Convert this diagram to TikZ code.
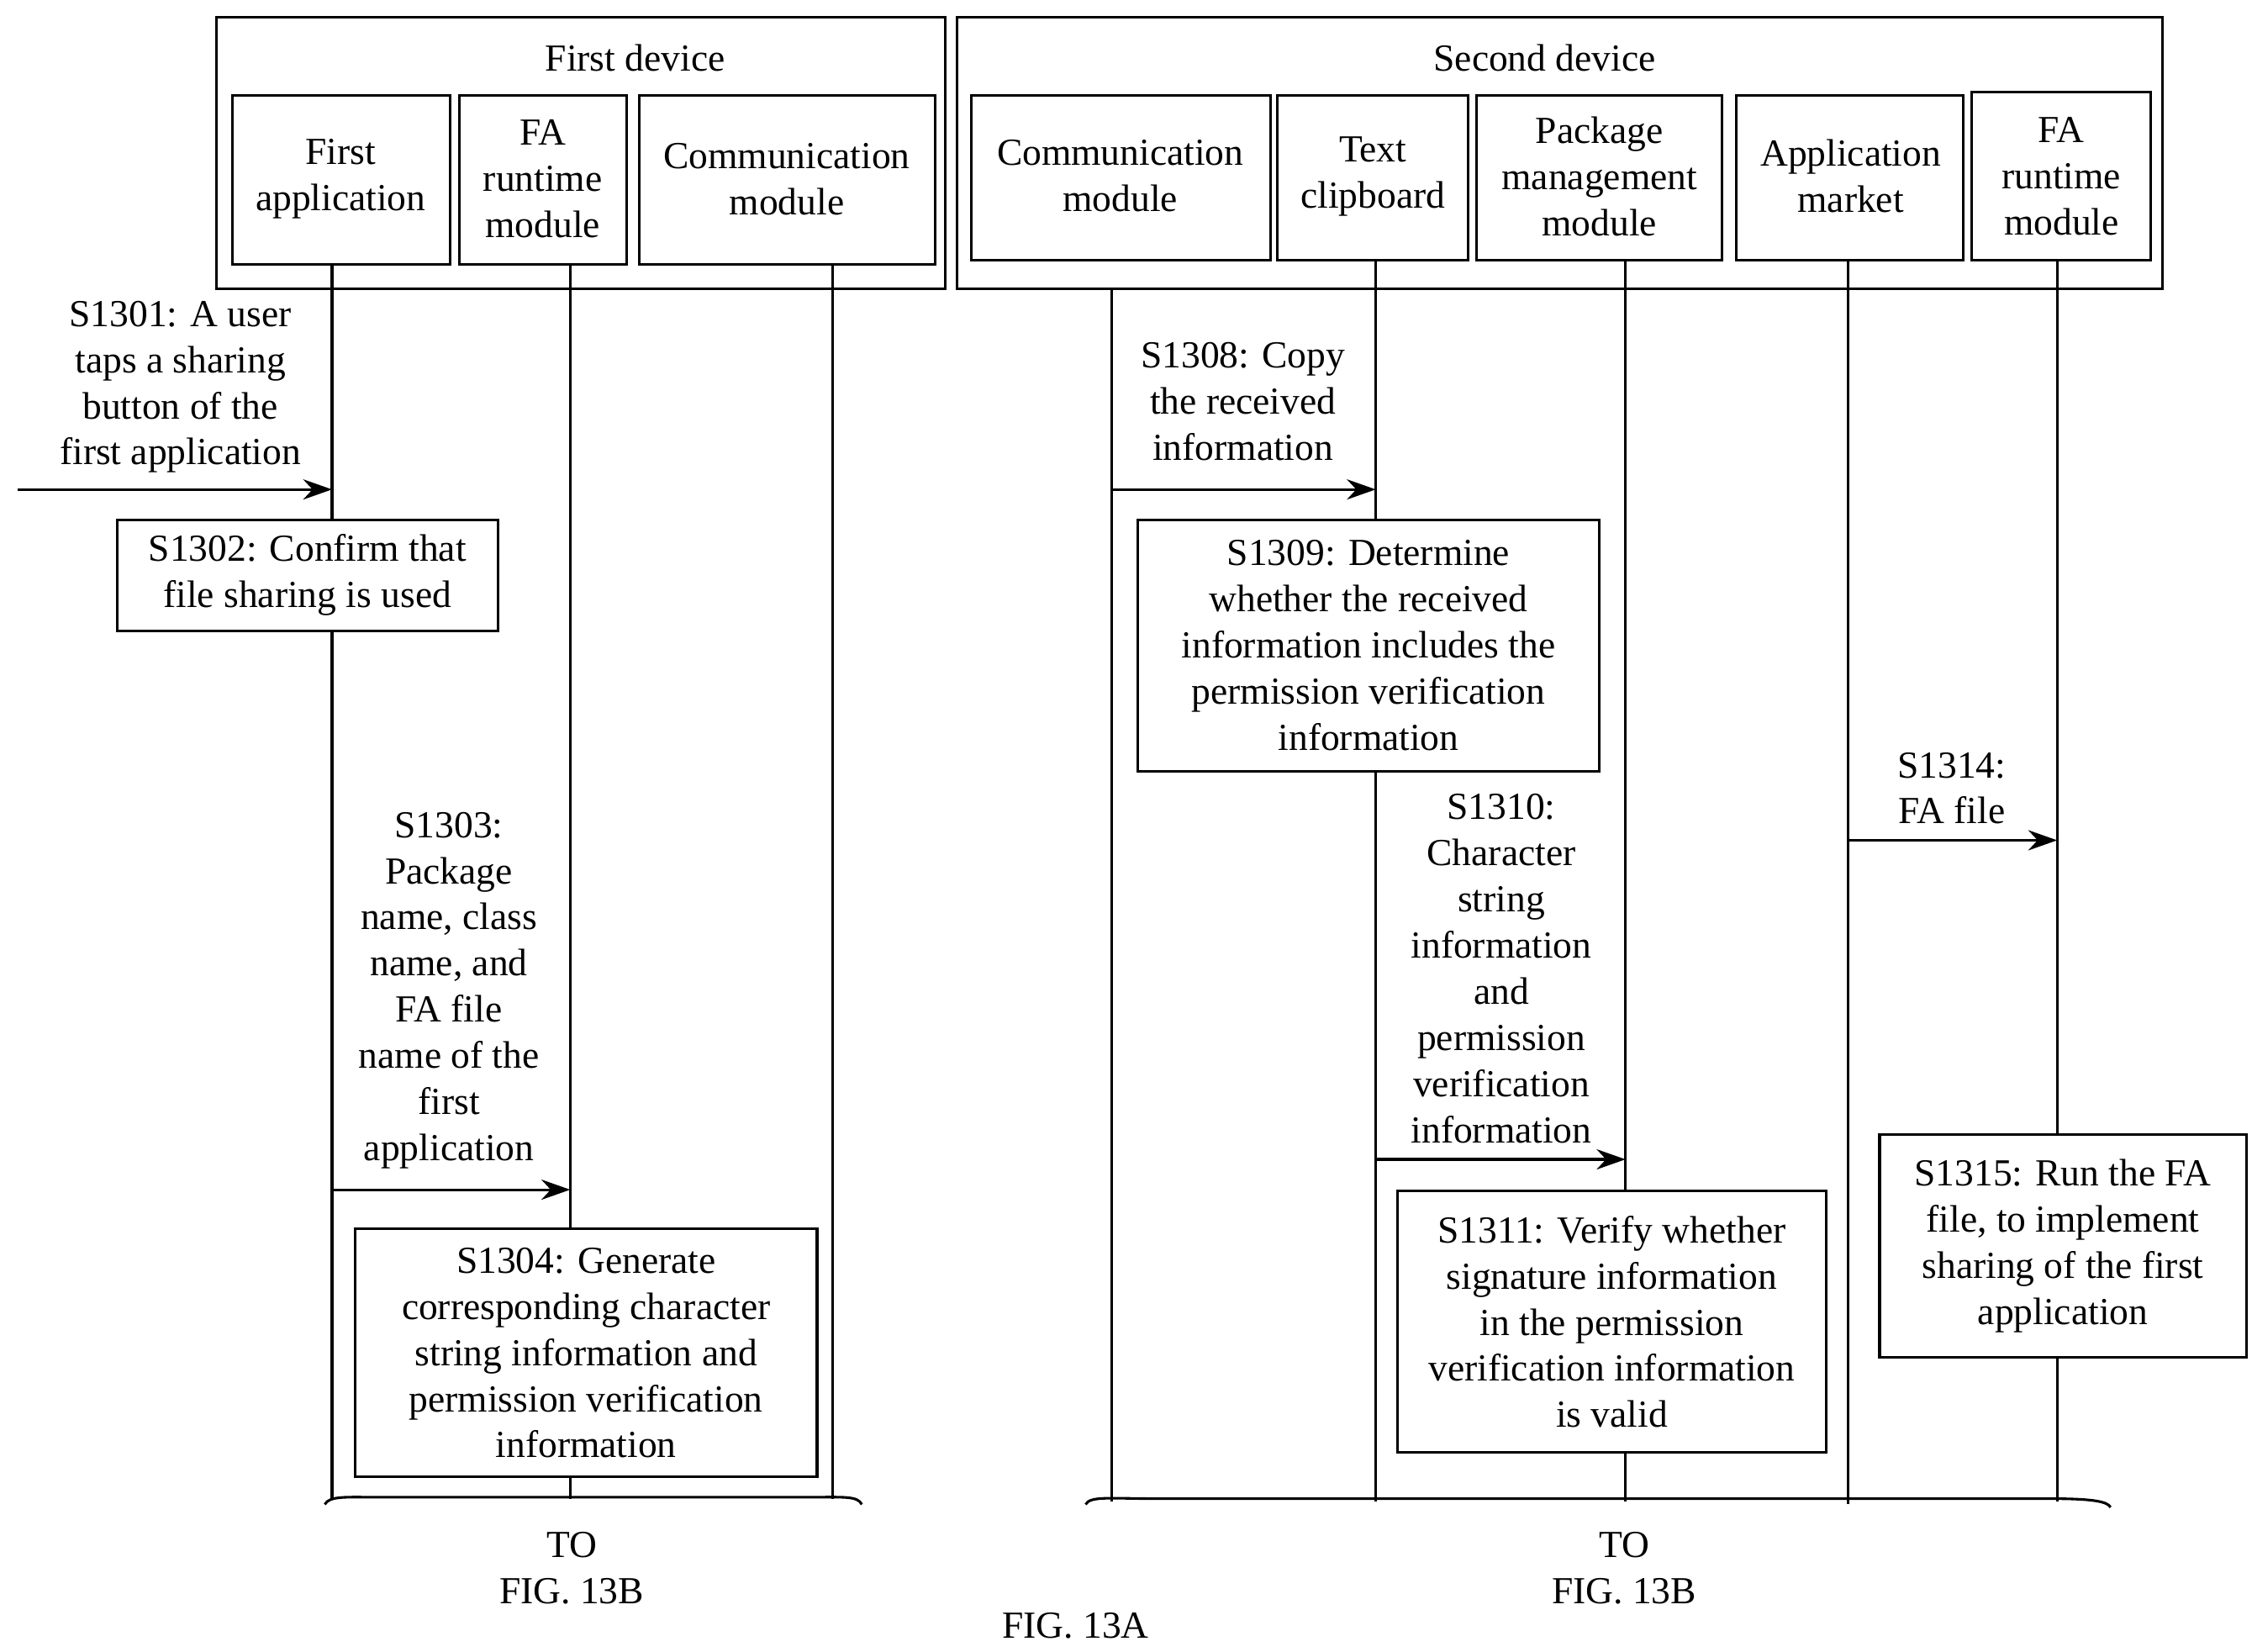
\documentclass[tikz,border=0pt]{standalone}
\usepackage{fontspec}
\setmainfont{Liberation Serif}
\usetikzlibrary{arrows.meta}
\begin{document}
\begin{tikzpicture}[x=1pt,y=-1pt,line width=1.8pt,
  every node/.style={font=\fontsize{26.5}{32}\selectfont,align=center,inner sep=0pt},
  box/.style={draw},
  arr/.style={-{Stealth[length=20pt,width=14pt]}},
  lbl/.style={}]
\useasboundingbox (0,0) rectangle (1560,1144);
% first device
\draw (150,12) rectangle (655,200);
\node (fd) at (440,40) {First device};
\draw (161,66) rectangle (312,183); \node (fa) at (236,124) {First\\application};
\draw (318,66) rectangle (434,183); \node (fr) at (376,124) {FA\\runtime\\module};
\draw (443,66) rectangle (648,183); \node (cm) at (545,124) {Communication\\module};
% second device
\draw (663,12) rectangle (1498,200);
\node (sd) at (1070,40) {Second device};
\draw (673,66) rectangle (880,180); \node at (776,122) {Communication\\module};
\draw (885,66) rectangle (1017,180); \node at (951,122) {Text\\clipboard};
\draw (1023,66) rectangle (1193,180); \node at (1108,122) {Package\\management\\module};
\draw (1203,66) rectangle (1360,180); \node at (1282,122) {Application\\market};
\draw (1366,64) rectangle (1490,180); \node at (1428,122) {FA\\runtime\\module};
% lifelines
\draw (230,183) -- (230,1038);
\draw (395,183) -- (395,851); \draw (395,1023) -- (395,1038);
\draw (577,183) -- (577,1038);
\draw (770,200) -- (770,1040);
\draw (953,180) -- (953,1040);
\draw (1126,180) -- (1126,1040);
\draw (1280,180) -- (1280,1042);
\draw (1425,180) -- (1425,786); \draw (1425,940) -- (1425,1040);
% left messages
\coordinate (s0) at (12,339);
\draw[arr] (s0) -- (230,339);
\node at (125,268) {S1301: A user\\taps a sharing\\button of the\\first application};
\node[box,fill=white,minimum width=264pt,minimum height=77pt] (b2) at (213,398.5) {S1302: Confirm that\\file sharing is used};
\draw[arr] (230,824) -- (395,824);
\node at (311,686) {S1303:\\Package\\name, class\\name, and\\FA file\\name of the\\first\\application};
\node[box,fill=white,minimum width=320pt,minimum height=172pt] (b4) at (406,937) {S1304: Generate\\corresponding character\\string information and\\permission verification\\information};
% right messages
\draw[arr] (770,339) -- (953,339);
\node at (861,278) {S1308: Copy\\the received\\information};
\node[box,fill=white,minimum width=320pt,minimum height=174pt] (b9) at (948,447) {S1309: Determine\\whether the received\\information includes the\\permission verification\\information};
\draw[arr] (953,803) -- (1126,803);
\node at (1040,671) {S1310:\\Character\\string\\information\\and\\permission\\verification\\information};
\node[box,fill=white,minimum width=297pt,minimum height=181pt] (b11) at (1116.5,915.5) {S1311: Verify whether\\signature information\\in the permission\\verification information\\is valid};
\draw[arr] (1280,582) -- (1425,582);
\node at (1352,546) {S1314:\\FA file};
\node[box,fill=white,minimum width=254pt,minimum height=154pt] (b15) at (1429,863) {S1315: Run the FA\\file, to implement\\sharing of the first\\application};
% bottom braces
\draw (225,1042) .. controls (228,1036) and (240,1037) .. (260,1037) -- (560,1037) .. controls (585,1037) and (594,1036) .. (597,1042);
\draw (752,1042) .. controls (755,1036) and (770,1038) .. (800,1038) -- (1420,1038) .. controls (1450,1038) and (1460,1040) .. (1462,1044);
\node at (396,1086) {TO\\FIG. 13B};
\node at (1125,1086) {TO\\FIG. 13B};
\node at (745,1126) {FIG. 13A};
\end{tikzpicture}
\end{document}
